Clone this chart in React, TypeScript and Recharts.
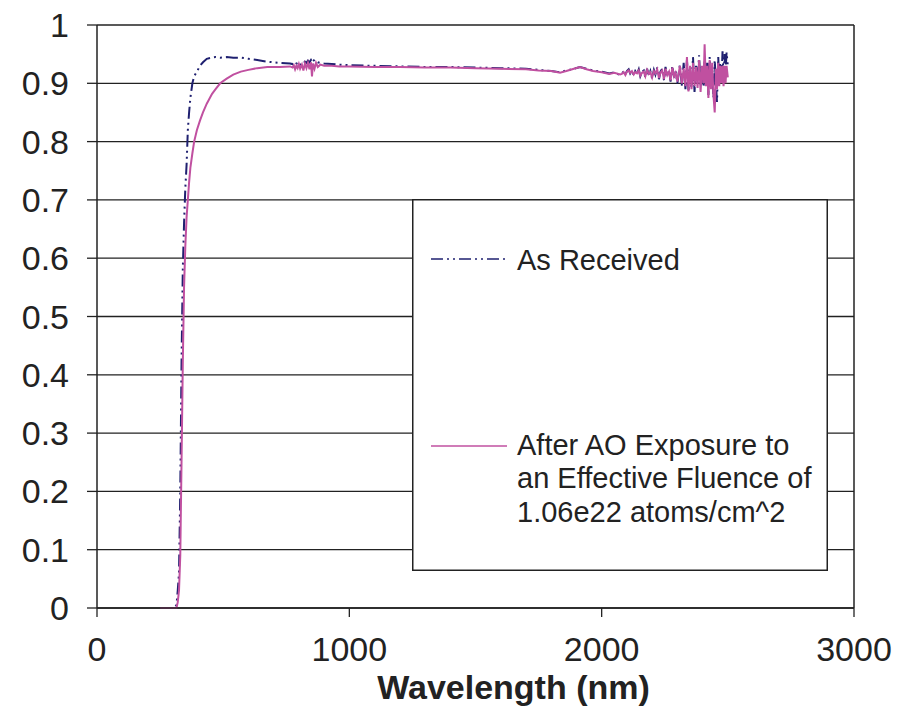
import React from 'react';
import { LineChart, Line, XAxis, YAxis, CartesianGrid, ReferenceLine, Legend, Label } from 'recharts';

const wavelengths = [
  // rise
  250, 300, 315, 320, 325, 330, 335, 340, 345, 350, 355, 360, 365, 370, 378, 385, 396, 408, 420, 435,
  456, 470, 488, 514, 540, 570, 600, 635, 675, 725,
  // 780-900 fuzz
  765, 775, 780, 785, 790, 795, 800, 805, 812, 818, 824, 830, 836, 842, 848, 852, 856, 862, 868, 875, 885, 900,
  // plateau
  930, 960, 1000, 1100, 1200, 1300, 1400, 1500, 1600, 1700, 1750, 1800, 1835, 1860, 1890, 1914, 1940, 1966,
  2000, 2030, 2050, 2073,
  // growing noise
  2080, 2087, 2094, 2100, 2107, 2113, 2120, 2127, 2133, 2140, 2147, 2153, 2160, 2167, 2173, 2180, 2187,
  2193, 2200, 2207, 2213, 2220, 2227, 2233, 2240, 2247, 2253, 2260, 2267, 2273, 2280, 2287, 2293, 2300,
  // strong noise
  2310, 2318, 2325, 2332, 2338, 2344, 2350, 2356, 2362, 2368, 2374, 2380, 2386, 2392, 2398, 2404, 2408,
  2413, 2418, 2423, 2428, 2433, 2438, 2443, 2448, 2453, 2457, 2462, 2466, 2470, 2475, 2479, 2483, 2487,
  2491, 2495, 2500,
];

const asReceived = [
  0, 0, 0.005, 0.03, 0.06, 0.2, 0.42, 0.58, 0.66, 0.72, 0.76, 0.82, 0.85, 0.875, 0.9, 0.912, 0.92, 0.93, 0.936, 0.942,
  0.944, 0.945, 0.944, 0.945, 0.944, 0.944, 0.942, 0.94, 0.937, 0.935,
  0.934, 0.933, 0.935, 0.932, 0.934, 0.933, 0.936, 0.932, 0.935, 0.934, 0.937, 0.935, 0.939, 0.936, 0.94, 0.937, 0.941, 0.938, 0.939, 0.936, 0.935, 0.934,
  0.933, 0.932, 0.931, 0.93, 0.929, 0.928, 0.928, 0.927, 0.926, 0.925, 0.923, 0.921, 0.919, 0.922, 0.925, 0.928, 0.925, 0.922,
  0.92, 0.917, 0.919, 0.914,
  0.917, 0.92, 0.915, 0.921, 0.924, 0.917, 0.922, 0.914, 0.921, 0.916, 0.924, 0.912, 0.92, 0.922, 0.91, 0.925, 0.914,
  0.921, 0.908, 0.923, 0.915, 0.927, 0.907, 0.92, 0.925, 0.905, 0.928, 0.912, 0.923, 0.903, 0.93, 0.91, 0.921, 0.9,
  0.932, 0.896, 0.935, 0.89, 0.94, 0.888, 0.928, 0.892, 0.945, 0.885, 0.93, 0.9, 0.948, 0.895, 0.932, 0.893, 0.94,
  0.898, 0.935, 0.88, 0.945, 0.895, 0.93, 0.875, 0.94, 0.9, 0.868, 0.945, 0.9, 0.935, 0.905, 0.955, 0.91, 0.95,
  0.92, 0.953, 0.93,
];

const afterAO = [
  0, 0, 0, 0.01, 0.03, 0.09, 0.25, 0.42, 0.55, 0.62, 0.67, 0.7, 0.73, 0.755, 0.78, 0.8, 0.82, 0.836, 0.85, 0.865,
  0.882, 0.89, 0.9, 0.908, 0.915, 0.92, 0.923, 0.926, 0.928, 0.928,
  0.929, 0.927, 0.931, 0.924, 0.93, 0.926, 0.933, 0.925, 0.932, 0.922, 0.934, 0.926, 0.935, 0.924, 0.936, 0.912, 0.934, 0.925, 0.935, 0.928, 0.932, 0.93,
  0.93, 0.929, 0.929, 0.928, 0.928, 0.927, 0.927, 0.926, 0.925, 0.924, 0.922, 0.921, 0.918, 0.921, 0.925, 0.928, 0.924, 0.921,
  0.919, 0.916, 0.918, 0.915,
  0.916, 0.919, 0.914, 0.92, 0.922, 0.918, 0.921, 0.915, 0.919, 0.917, 0.922, 0.913, 0.918, 0.92, 0.912, 0.923, 0.916,
  0.919, 0.91, 0.921, 0.917, 0.924, 0.909, 0.918, 0.922, 0.907, 0.925, 0.914, 0.92, 0.905, 0.927, 0.912, 0.918, 0.903,
  0.93, 0.9, 0.925, 0.895, 0.945, 0.886, 0.93, 0.89, 0.935, 0.895, 0.928, 0.892, 0.94, 0.885, 0.93, 0.9, 0.967,
  0.895, 0.93, 0.875, 0.94, 0.89, 0.935, 0.88, 0.85, 0.925, 0.89, 0.935, 0.895, 0.93, 0.9, 0.93, 0.895, 0.93,
  0.9, 0.93, 0.91,
];

const xTicks = [0, 1000, 2000, 3000];
const yTicks = [0, 0.1, 0.2, 0.3, 0.4, 0.5, 0.6, 0.7, 0.8, 0.9, 1];
const seriesNames = ['As Received', 'After AO Exposure to an Effective Fluence of 1.06e22 atoms/cm^2'];
const afterAOLegendLines = ['After AO Exposure to', 'an Effective Fluence of', '1.06e22 atoms/cm^2'];
const xAxisTitle = 'Wavelength (nm)';

const NAVY = '#1f2070';
const PINK = '#c050a0';
const INK = '#222222';
const FONT = '"Liberation Sans", Arial, sans-serif';
const DASH = '12 4 2 4 2 4';

const data = wavelengths.map((w, i) => ({ w, a: asReceived[i], b: afterAO[i] }));

const LegendBox = () => (
  <svg width={416} height={372} style={{ display: 'block' }}>
    <rect x={0.75} y={0.75} width={414.5} height={370.5} fill="#fff" stroke={INK} strokeWidth={1.5} />
    <line x1={19} x2={95} y1={60} y2={60} stroke={NAVY} strokeWidth={1.5} strokeDasharray={DASH} />
    <text x={105} y={71} fontSize={29} fontFamily={FONT} fill={INK}>{seriesNames[0]}</text>
    <line x1={19} x2={95} y1={247} y2={247} stroke={PINK} strokeWidth={1.5} />
    {afterAOLegendLines.map((t, i) => (
      <text key={t} x={105} y={256 + i * 33.3} fontSize={29} fontFamily={FONT} fill={INK}>{t}</text>
    ))}
  </svg>
);

export default function App() {
  return (
    <div style={{ position: 'absolute', left: 0, top: 0, width: 910, height: 707, background: '#fff' }}>
      <LineChart width={910} height={707} data={data} margin={{ top: 25, right: 56, bottom: 0, left: 0 }}>
        <CartesianGrid horizontal vertical={false} stroke={INK} strokeWidth={1.3} />
        <XAxis
          dataKey="w"
          type="number"
          domain={[0, 3000]}
          ticks={xTicks}
          interval={0}
          height={99}
          tickSize={9}
          tickMargin={20}
          axisLine={{ stroke: INK, strokeWidth: 1.5 }}
          tickLine={{ stroke: INK, strokeWidth: 1.3 }}
          tick={{ fontSize: 34, fontFamily: FONT, fill: INK }}
        >
          <Label
            value={xAxisTitle}
            position="insideBottom"
            offset={8}
            dx={38}
            fontSize={34}
            fontWeight="bold"
            fontFamily={FONT}
            fill={INK}
          />
        </XAxis>
        <YAxis
          type="number"
          domain={[0, 1]}
          ticks={yTicks}
          interval={0}
          width={97}
          tickSize={10}
          tickMargin={18}
          axisLine={{ stroke: INK, strokeWidth: 1.5 }}
          tickLine={{ stroke: INK, strokeWidth: 1.3 }}
          tick={{ fontSize: 34, fontFamily: FONT, fill: INK }}
        />
        <ReferenceLine x={3000} stroke={INK} strokeWidth={1.5} />
        <Line
          type="linear"
          dataKey="a"
          name={seriesNames[0]}
          stroke={NAVY}
          strokeWidth={2}
          strokeDasharray={DASH}
          dot={false}
          isAnimationActive={false}
        />
        <Line
          type="linear"
          dataKey="b"
          name={seriesNames[1]}
          stroke={PINK}
          strokeWidth={2}
          dot={false}
          isAnimationActive={false}
        />
        <Legend
          layout="horizontal"
          verticalAlign="middle"
          align="center"
          width={416}
          height={372}
          wrapperStyle={{ left: 412, top: 199, width: 416, height: 372 }}
          content={() => <LegendBox />}
        />
      </LineChart>
    </div>
  );
}
